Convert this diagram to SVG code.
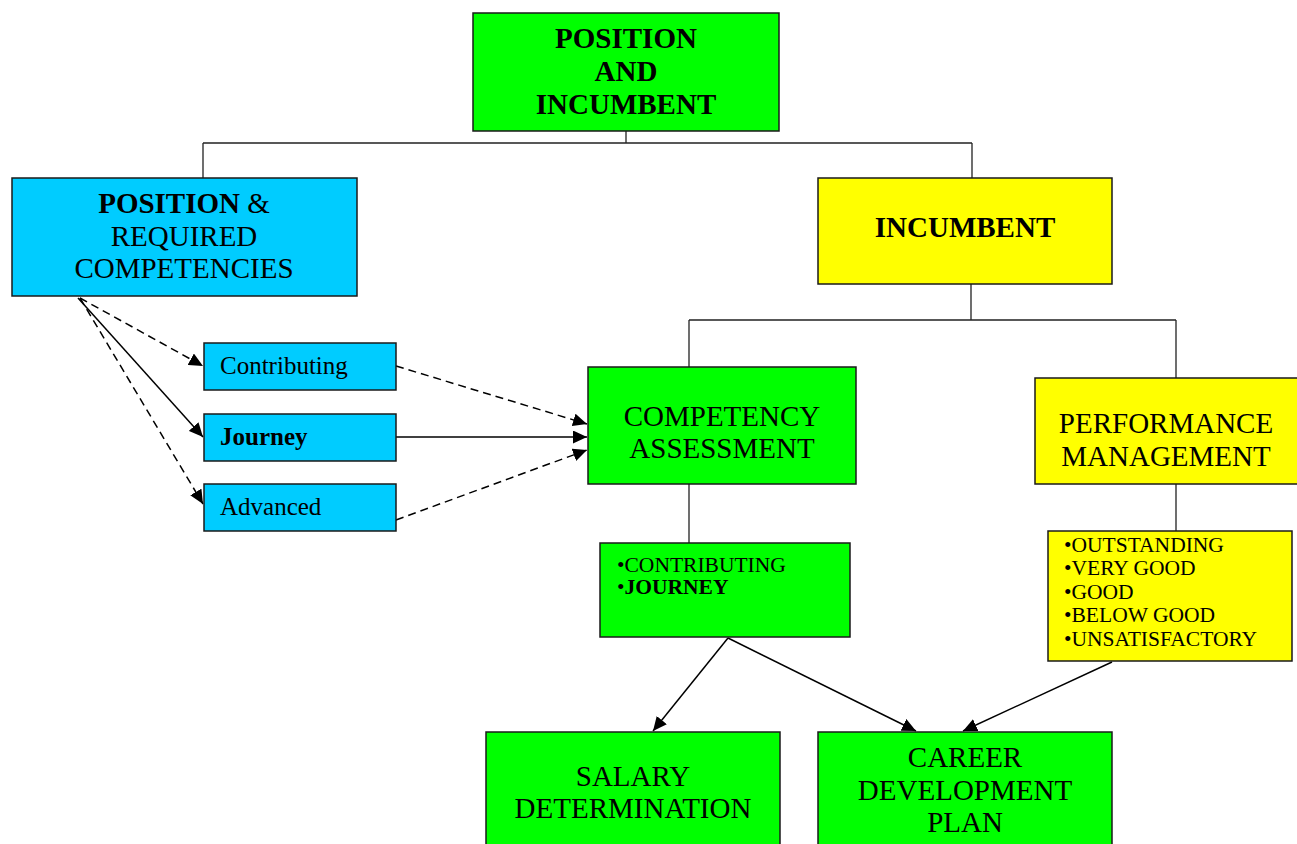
<svg xmlns="http://www.w3.org/2000/svg" width="1297" height="844" viewBox="0 0 1297 844">
<style>
.box{stroke:#1a1a1a;stroke-width:1.5}
.g{fill:#00ff00}
.c{fill:#00ccff}
.y{fill:#ffff00}
text{font-family:"Liberation Serif","Times New Roman",serif;fill:#000}
.big{font-size:29px;text-anchor:middle}
.b{font-weight:bold}
.sm{font-size:25px}
.bl{font-size:21.5px}
.ln{fill:none;stroke:#000;stroke-width:1.5}
.tree{fill:none;stroke:#222;stroke-width:1.3}
.d{stroke-dasharray:8 5}
</style>
<defs>
<marker id="ah" markerUnits="userSpaceOnUse" markerWidth="15" markerHeight="13" refX="14" refY="6.5" orient="auto">
<path d="M0,0 L14,6.5 L0,13 Z" fill="#000"/>
</marker>
</defs>
<g id="connectors">
<path class="tree" d="M626,131 V143 M203,143 H972 M203,143 V178 M972,143 V178"/>
<path class="tree" d="M971,284 V320 M689,320 H1176 M689,320 V367 M1176,320 V378"/>
<path class="tree" d="M689,484 V543 M1176,484 V531"/>
<path class="ln d" d="M80,298 L203,366" marker-end="url(#ah)"/>
<path class="ln" d="M78,298 L203,437" marker-end="url(#ah)"/>
<path class="ln d" d="M80,298 L203,504" marker-end="url(#ah)"/>
<path class="ln d" d="M396,366 L587,424" marker-end="url(#ah)"/>
<path class="ln" d="M396,437 L587,437" marker-end="url(#ah)"/>
<path class="ln d" d="M396,520 L587,450" marker-end="url(#ah)"/>
<path class="ln" d="M728,638 L653,731" marker-end="url(#ah)"/>
<path class="ln" d="M728,638 L916,731" marker-end="url(#ah)"/>
<path class="ln" d="M1112,662 L963,731" marker-end="url(#ah)"/>
</g>
<g id="position-and-incumbent">
<rect class="box g" x="473" y="13" width="306" height="118"/>
<text class="big b" x="626" y="48">POSITION</text>
<text class="big b" x="626" y="81">AND</text>
<text class="big b" x="626" y="114">INCUMBENT</text>
</g>
<g id="position-required">
<rect class="box c" x="12" y="178" width="345" height="118"/>
<text class="big" x="184" y="213"><tspan class="b">POSITION</tspan> &amp;</text>
<text class="big" x="184" y="246">REQUIRED</text>
<text class="big" x="184" y="278">COMPETENCIES</text>
</g>
<g id="incumbent">
<rect class="box y" x="818" y="178" width="294" height="106"/>
<text class="big b" x="965" y="237">INCUMBENT</text>
</g>
<g id="contributing">
<rect class="box c" x="204" y="343" width="192" height="47"/>
<text class="sm" x="220" y="374">Contributing</text>
</g>
<g id="journey">
<rect class="box c" x="204" y="414" width="192" height="47"/>
<text class="sm b" x="220" y="445">Journey</text>
</g>
<g id="advanced">
<rect class="box c" x="204" y="484" width="192" height="47"/>
<text class="sm" x="220" y="515">Advanced</text>
</g>
<g id="competency-assessment">
<rect class="box g" x="588" y="367" width="268" height="117"/>
<text class="big" x="722" y="426">COMPETENCY</text>
<text class="big" x="722" y="458">ASSESSMENT</text>
</g>
<g id="performance-management">
<rect class="box y" x="1035" y="378" width="268" height="106"/>
<text class="big" x="1166" y="433">PERFORMANCE</text>
<text class="big" x="1166" y="466">MANAGEMENT</text>
</g>
<g id="levels">
<rect class="box g" x="600" y="543" width="250" height="94"/>
<text class="bl" x="617" y="572">•CONTRIBUTING</text>
<text class="bl" x="617" y="594">•<tspan class="b">JOURNEY</tspan></text>
</g>
<g id="ratings">
<rect class="box y" x="1048" y="531" width="244" height="130"/>
<text class="bl" x="1064" y="552">•OUTSTANDING</text>
<text class="bl" x="1064" y="575">•VERY GOOD</text>
<text class="bl" x="1064" y="599">•GOOD</text>
<text class="bl" x="1064" y="622">•BELOW GOOD</text>
<text class="bl" x="1064" y="646">•UNSATISFACTORY</text>
</g>
<g id="salary-determination">
<rect class="box g" x="486" y="732" width="294" height="130"/>
<text class="big" x="633" y="786">SALARY</text>
<text class="big" x="633" y="818">DETERMINATION</text>
</g>
<g id="career-development-plan">
<rect class="box g" x="818" y="732" width="294" height="130"/>
<text class="big" x="965" y="767">CAREER</text>
<text class="big" x="965" y="800">DEVELOPMENT</text>
<text class="big" x="965" y="832">PLAN</text>
</g>
</svg>
